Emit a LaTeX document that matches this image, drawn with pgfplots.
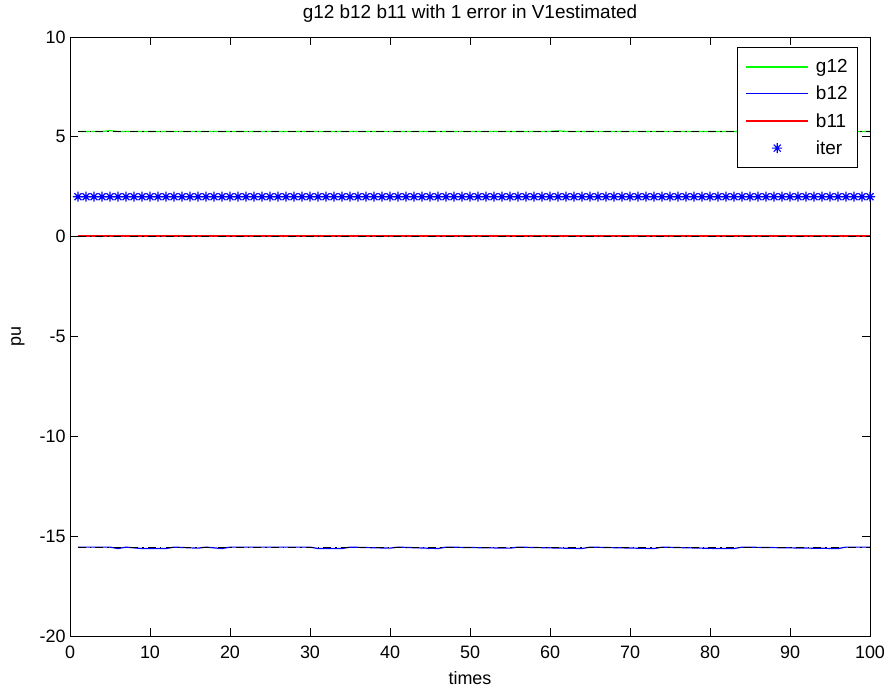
\documentclass[border=0pt]{standalone}
\usepackage{pgfplots}
\pgfplotsset{compat=1.18}
\usepackage{fontspec}
\setmainfont{Liberation Sans}
\definecolor{mgreen}{rgb}{0,1,0}
\definecolor{mblue}{rgb}{0,0,1}
\definecolor{mred}{rgb}{1,0,0}
\pgfdeclareplotmark{mstar}{%
 \pgfpathmoveto{\pgfqpoint{-\pgfplotmarksize}{0pt}}\pgfpathlineto{\pgfqpoint{\pgfplotmarksize}{0pt}}%
 \pgfpathmoveto{\pgfqpoint{0pt}{-\pgfplotmarksize}}\pgfpathlineto{\pgfqpoint{0pt}{\pgfplotmarksize}}%
 \pgfpathmoveto{\pgfqpoint{-.7\pgfplotmarksize}{-.7\pgfplotmarksize}}\pgfpathlineto{\pgfqpoint{.7\pgfplotmarksize}{.7\pgfplotmarksize}}%
 \pgfpathmoveto{\pgfqpoint{-.7\pgfplotmarksize}{.7\pgfplotmarksize}}\pgfpathlineto{\pgfqpoint{.7\pgfplotmarksize}{-.7\pgfplotmarksize}}%
 \pgfusepathqstroke}
\pgfplotsset{markleg/.style={legend image code/.code={\draw[##1] plot coordinates {(31bp,0bp)};}}}
\begin{document}
\begin{tikzpicture}
\path[use as bounding box] (-70bp,-55bp) rectangle (817bp,636bp);
\begin{axis}[
  at={(0,0)}, anchor=south west,
  scale only axis, width=800bp, height=599bp,
  xmin=0, xmax=100, ymin=-20, ymax=10,
  xtick={0,10,20,30,40,50,60,70,80,90,100},
  ytick={-20,-15,-10,-5,0,5,10},
  tick align=inside, major tick length=8bp,
  axis line style={line width=0.9bp},
  every tick/.style={line width=0.9bp, black},
  /pgf/number format/assume math mode=true,
  tick label style={font=\fontsize{18}{20}\selectfont},
  xticklabel style={anchor=base, yshift=-22bp},
  yticklabel style={anchor=east, xshift=-1bp},
  title={g12 b12 b11 with 1 error in V1estimated},
  title style={font=\fontsize{19}{22}\selectfont, at={(axis description cs:0.5,1)}, anchor=base, yshift=13bp},
  xlabel={times},
  xlabel style={font=\fontsize{18}{20}\selectfont, at={(axis description cs:0.5,0)}, anchor=base, yshift=-48bp},
  ylabel={pu},
  ylabel style={font=\fontsize{18}{20}\selectfont, at={(axis description cs:-0.065,0.5)}, anchor=center},
  legend image code/.code={\draw[#1, line width=1.5bp] (0bp,0bp) -- (62bp,0bp);},
  legend style={draw=black, line width=0.9bp, fill=white, at={(axis description cs:1,1)}, anchor=north east,
    xshift=-12bp, yshift=-10bp, font=\fontsize{19}{22}\selectfont,
    inner xsep=8bp, inner ysep=10bp, row sep=8bp, column sep=5bp,
    cells={anchor=west}},
  legend cell align=left,
]
\addplot[mgreen, line width=1.2bp] coordinates {(1,5.27) (4,5.27) (5,5.31) (6,5.27) (60,5.27) (61,5.30) (62,5.27) (100,5.27)};
\addlegendentry{g12}
\addplot[mblue, line width=1.2bp] coordinates {(1,-15.55) (5,-15.55) (6,-15.62) (7,-15.55) (9,-15.62) (12,-15.62) (13,-15.55) (16,-15.6) (17,-15.55) (19,-15.62) (20,-15.55) (30,-15.55) (31,-15.62) (34,-15.62) (35,-15.55) (40,-15.6) (41,-15.55) (46,-15.62) (47,-15.55) (55,-15.6) (56,-15.55) (64,-15.62) (65,-15.55) (73,-15.62) (74,-15.55) (81,-15.62) (83,-15.62) (84,-15.55) (96,-15.62) (97,-15.55) (100,-15.55)};
\addlegendentry{b12}
\addplot[mred, line width=1.2bp] coordinates {(1,0.03) (100,0.03)};
\addlegendentry{b11}
\addplot[mblue, only marks, mark=mstar, mark size=5bp, line width=1.2bp, markleg] coordinates {
(1,2) (2,2) (3,2) (4,2) (5,2) (6,2) (7,2) (8,2) (9,2) (10,2)
(11,2) (12,2) (13,2) (14,2) (15,2) (16,2) (17,2) (18,2) (19,2) (20,2)
(21,2) (22,2) (23,2) (24,2) (25,2) (26,2) (27,2) (28,2) (29,2) (30,2)
(31,2) (32,2) (33,2) (34,2) (35,2) (36,2) (37,2) (38,2) (39,2) (40,2)
(41,2) (42,2) (43,2) (44,2) (45,2) (46,2) (47,2) (48,2) (49,2) (50,2)
(51,2) (52,2) (53,2) (54,2) (55,2) (56,2) (57,2) (58,2) (59,2) (60,2)
(61,2) (62,2) (63,2) (64,2) (65,2) (66,2) (67,2) (68,2) (69,2) (70,2)
(71,2) (72,2) (73,2) (74,2) (75,2) (76,2) (77,2) (78,2) (79,2) (80,2)
(81,2) (82,2) (83,2) (84,2) (85,2) (86,2) (87,2) (88,2) (89,2) (90,2)
(91,2) (92,2) (93,2) (94,2) (95,2) (96,2) (97,2) (98,2) (99,2) (100,2)};
\addlegendentry{iter}
\addplot[black, line width=1.1bp, dash pattern=on 8bp off 4bp on 1.5bp off 4bp, forget plot] coordinates {(1,5.27) (100,5.27)};
\addplot[black, line width=1.1bp, dash pattern=on 8bp off 4bp on 1.5bp off 4bp, forget plot] coordinates {(1,0.03) (100,0.03)};
\addplot[black, line width=1.1bp, dash pattern=on 8bp off 4bp on 1.5bp off 4bp, forget plot] coordinates {(1,-15.55) (100,-15.55)};
\end{axis}
\end{tikzpicture}
\end{document}
